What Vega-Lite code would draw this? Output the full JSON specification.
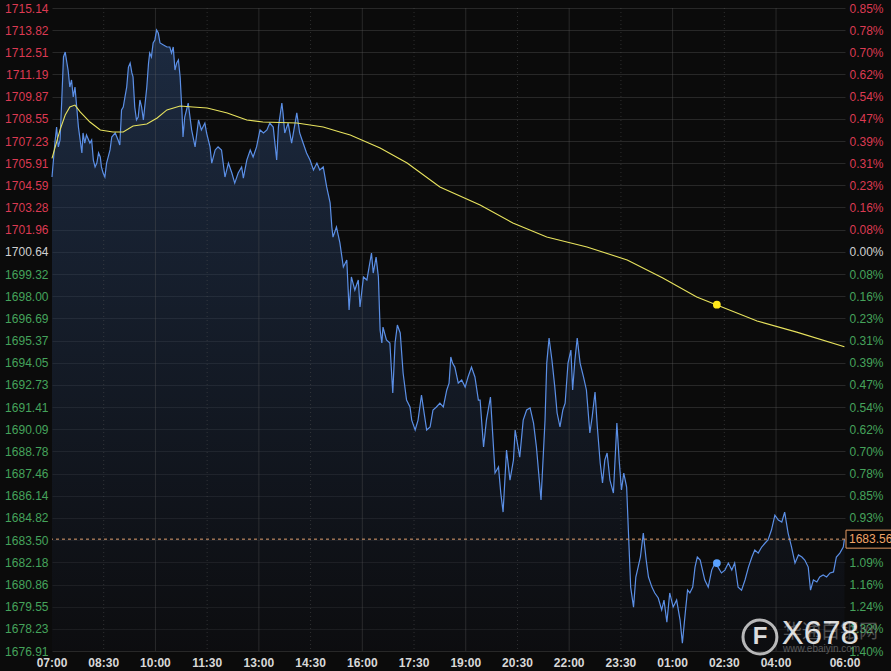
{
  "$schema": "https://vega.github.io/schema/vega-lite/v6.json",
  "width": 793,
  "height": 643,
  "autosize": "none",
  "padding": {"left": 52, "top": 8, "right": 46, "bottom": 20},
  "background": "#0b0b0b",
  "config": {"view": {"stroke": null}, "font": "Liberation Sans"},
  "datasets": {
    "price": [
      {"time": "2020-08-13T07:00", "price": 1705.09},
      {"time": "2020-08-13T07:05", "price": 1707.11},
      {"time": "2020-08-13T07:08", "price": 1708.06},
      {"time": "2020-08-13T07:11", "price": 1706.88},
      {"time": "2020-08-13T07:14", "price": 1707.29},
      {"time": "2020-08-13T07:17", "price": 1709.67},
      {"time": "2020-08-13T07:20", "price": 1712.23},
      {"time": "2020-08-13T07:23", "price": 1712.52},
      {"time": "2020-08-13T07:26", "price": 1711.87},
      {"time": "2020-08-13T07:28", "price": 1711.45},
      {"time": "2020-08-13T07:31", "price": 1710.44},
      {"time": "2020-08-13T07:34", "price": 1710.86},
      {"time": "2020-08-13T07:37", "price": 1709.85},
      {"time": "2020-08-13T07:40", "price": 1710.44},
      {"time": "2020-08-13T07:43", "price": 1709.25},
      {"time": "2020-08-13T07:46", "price": 1708.06},
      {"time": "2020-08-13T07:49", "price": 1707.29},
      {"time": "2020-08-13T07:52", "price": 1706.52},
      {"time": "2020-08-13T07:54", "price": 1707.71},
      {"time": "2020-08-13T07:57", "price": 1707.11},
      {"time": "2020-08-13T08:00", "price": 1707.59},
      {"time": "2020-08-13T08:06", "price": 1707.11},
      {"time": "2020-08-13T08:09", "price": 1707.29},
      {"time": "2020-08-13T08:12", "price": 1706.10},
      {"time": "2020-08-13T08:15", "price": 1705.69},
      {"time": "2020-08-13T08:18", "price": 1705.92},
      {"time": "2020-08-13T08:21", "price": 1706.52},
      {"time": "2020-08-13T08:24", "price": 1706.28},
      {"time": "2020-08-13T08:26", "price": 1705.69},
      {"time": "2020-08-13T08:29", "price": 1705.33},
      {"time": "2020-08-13T08:32", "price": 1705.09},
      {"time": "2020-08-13T08:35", "price": 1705.92},
      {"time": "2020-08-13T08:41", "price": 1706.70},
      {"time": "2020-08-13T08:44", "price": 1707.47},
      {"time": "2020-08-13T08:50", "price": 1707.71},
      {"time": "2020-08-13T08:55", "price": 1707.29},
      {"time": "2020-08-13T08:58", "price": 1706.99},
      {"time": "2020-08-13T09:01", "price": 1709.08},
      {"time": "2020-08-13T09:04", "price": 1709.25},
      {"time": "2020-08-13T09:07", "price": 1709.85},
      {"time": "2020-08-13T09:10", "price": 1710.44},
      {"time": "2020-08-13T09:13", "price": 1711.63},
      {"time": "2020-08-13T09:16", "price": 1711.87},
      {"time": "2020-08-13T09:19", "price": 1711.28},
      {"time": "2020-08-13T09:21", "price": 1711.04},
      {"time": "2020-08-13T09:24", "price": 1709.25},
      {"time": "2020-08-13T09:27", "price": 1708.48},
      {"time": "2020-08-13T09:30", "price": 1708.66},
      {"time": "2020-08-13T09:33", "price": 1709.67},
      {"time": "2020-08-13T09:36", "price": 1709.25},
      {"time": "2020-08-13T09:39", "price": 1708.48},
      {"time": "2020-08-13T09:45", "price": 1710.44},
      {"time": "2020-08-13T09:48", "price": 1711.87},
      {"time": "2020-08-13T09:50", "price": 1712.46},
      {"time": "2020-08-13T09:53", "price": 1712.23},
      {"time": "2020-08-13T09:56", "price": 1713.06},
      {"time": "2020-08-13T09:59", "price": 1713.24},
      {"time": "2020-08-13T10:02", "price": 1713.83},
      {"time": "2020-08-13T10:05", "price": 1713.65},
      {"time": "2020-08-13T10:08", "price": 1713.06},
      {"time": "2020-08-13T10:14", "price": 1712.94},
      {"time": "2020-08-13T10:20", "price": 1712.82},
      {"time": "2020-08-13T10:25", "price": 1712.82},
      {"time": "2020-08-13T10:28", "price": 1712.46},
      {"time": "2020-08-13T10:31", "price": 1712.82},
      {"time": "2020-08-13T10:34", "price": 1711.45},
      {"time": "2020-08-13T10:37", "price": 1711.87},
      {"time": "2020-08-13T10:40", "price": 1712.05},
      {"time": "2020-08-13T10:43", "price": 1711.04},
      {"time": "2020-08-13T10:46", "price": 1709.08},
      {"time": "2020-08-13T10:48", "price": 1707.47},
      {"time": "2020-08-13T10:51", "price": 1708.66},
      {"time": "2020-08-13T10:57", "price": 1709.49},
      {"time": "2020-08-13T11:03", "price": 1707.89},
      {"time": "2020-08-13T11:09", "price": 1706.88},
      {"time": "2020-08-13T11:15", "price": 1708.48},
      {"time": "2020-08-13T11:20", "price": 1707.89},
      {"time": "2020-08-13T11:26", "price": 1708.30},
      {"time": "2020-08-13T11:29", "price": 1707.71},
      {"time": "2020-08-13T11:35", "price": 1706.88},
      {"time": "2020-08-13T11:38", "price": 1705.92},
      {"time": "2020-08-13T11:44", "price": 1706.70},
      {"time": "2020-08-13T11:49", "price": 1706.88},
      {"time": "2020-08-13T11:55", "price": 1706.70},
      {"time": "2020-08-13T12:01", "price": 1705.09},
      {"time": "2020-08-13T12:07", "price": 1705.92},
      {"time": "2020-08-13T12:13", "price": 1705.33},
      {"time": "2020-08-13T12:18", "price": 1704.73},
      {"time": "2020-08-13T12:24", "price": 1705.33},
      {"time": "2020-08-13T12:30", "price": 1705.69},
      {"time": "2020-08-13T12:33", "price": 1705.03},
      {"time": "2020-08-13T12:39", "price": 1706.10},
      {"time": "2020-08-13T12:45", "price": 1706.70},
      {"time": "2020-08-13T12:50", "price": 1706.28},
      {"time": "2020-08-13T12:56", "price": 1706.88},
      {"time": "2020-08-13T13:02", "price": 1707.89},
      {"time": "2020-08-13T13:08", "price": 1707.71},
      {"time": "2020-08-13T13:14", "price": 1707.89},
      {"time": "2020-08-13T13:19", "price": 1708.30},
      {"time": "2020-08-13T13:25", "price": 1708.06},
      {"time": "2020-08-13T13:31", "price": 1706.10},
      {"time": "2020-08-13T13:34", "price": 1708.06},
      {"time": "2020-08-13T13:40", "price": 1709.49},
      {"time": "2020-08-13T13:42", "price": 1708.90},
      {"time": "2020-08-13T13:45", "price": 1707.71},
      {"time": "2020-08-13T13:51", "price": 1708.30},
      {"time": "2020-08-13T13:57", "price": 1707.11},
      {"time": "2020-08-13T14:03", "price": 1708.30},
      {"time": "2020-08-13T14:06", "price": 1708.90},
      {"time": "2020-08-13T14:11", "price": 1707.71},
      {"time": "2020-08-13T14:17", "price": 1707.11},
      {"time": "2020-08-13T14:23", "price": 1706.52},
      {"time": "2020-08-13T14:29", "price": 1706.10},
      {"time": "2020-08-13T14:35", "price": 1705.51},
      {"time": "2020-08-13T14:41", "price": 1705.92},
      {"time": "2020-08-13T14:46", "price": 1705.51},
      {"time": "2020-08-13T14:52", "price": 1705.69},
      {"time": "2020-08-13T14:58", "price": 1704.50},
      {"time": "2020-08-13T15:04", "price": 1703.55},
      {"time": "2020-08-13T15:07", "price": 1702.12},
      {"time": "2020-08-13T15:09", "price": 1701.52},
      {"time": "2020-08-13T15:15", "price": 1702.12},
      {"time": "2020-08-13T15:21", "price": 1701.17},
      {"time": "2020-08-13T15:27", "price": 1699.74},
      {"time": "2020-08-13T15:33", "price": 1700.16},
      {"time": "2020-08-13T15:37", "price": 1697.18},
      {"time": "2020-08-13T15:41", "price": 1699.15},
      {"time": "2020-08-13T15:47", "price": 1698.37},
      {"time": "2020-08-13T15:53", "price": 1698.97},
      {"time": "2020-08-13T15:56", "price": 1697.36},
      {"time": "2020-08-13T16:02", "price": 1699.15},
      {"time": "2020-08-13T16:08", "price": 1698.97},
      {"time": "2020-08-13T16:13", "price": 1699.98},
      {"time": "2020-08-13T16:16", "price": 1700.57},
      {"time": "2020-08-13T16:19", "price": 1699.38},
      {"time": "2020-08-13T16:24", "price": 1700.33},
      {"time": "2020-08-13T16:28", "price": 1699.15},
      {"time": "2020-08-13T16:31", "price": 1695.99},
      {"time": "2020-08-13T16:34", "price": 1695.22},
      {"time": "2020-08-13T16:36", "price": 1696.17},
      {"time": "2020-08-13T16:42", "price": 1695.40},
      {"time": "2020-08-13T16:48", "price": 1695.22},
      {"time": "2020-08-13T16:53", "price": 1692.25},
      {"time": "2020-08-13T16:57", "price": 1695.22},
      {"time": "2020-08-13T17:01", "price": 1696.29},
      {"time": "2020-08-13T17:06", "price": 1695.82},
      {"time": "2020-08-13T17:11", "price": 1693.44},
      {"time": "2020-08-13T17:17", "price": 1691.83},
      {"time": "2020-08-13T17:23", "price": 1691.42},
      {"time": "2020-08-13T17:26", "price": 1690.64},
      {"time": "2020-08-13T17:32", "price": 1690.05},
      {"time": "2020-08-13T17:37", "price": 1690.64},
      {"time": "2020-08-13T17:43", "price": 1692.13},
      {"time": "2020-08-13T17:46", "price": 1691.42},
      {"time": "2020-08-13T17:52", "price": 1690.05},
      {"time": "2020-08-13T17:58", "price": 1690.23},
      {"time": "2020-08-13T18:03", "price": 1691.24},
      {"time": "2020-08-13T18:09", "price": 1691.42},
      {"time": "2020-08-13T18:15", "price": 1691.65},
      {"time": "2020-08-13T18:21", "price": 1691.42},
      {"time": "2020-08-13T18:27", "price": 1692.43},
      {"time": "2020-08-13T18:31", "price": 1692.84},
      {"time": "2020-08-13T18:34", "price": 1694.39},
      {"time": "2020-08-13T18:37", "price": 1694.03},
      {"time": "2020-08-13T18:41", "price": 1693.79},
      {"time": "2020-08-13T18:47", "price": 1692.84},
      {"time": "2020-08-13T18:53", "price": 1693.02},
      {"time": "2020-08-13T18:59", "price": 1692.60},
      {"time": "2020-08-13T19:04", "price": 1693.20},
      {"time": "2020-08-13T19:10", "price": 1693.79},
      {"time": "2020-08-13T19:16", "price": 1693.20},
      {"time": "2020-08-13T19:22", "price": 1691.83},
      {"time": "2020-08-13T19:25", "price": 1691.83},
      {"time": "2020-08-13T19:31", "price": 1689.04},
      {"time": "2020-08-13T19:36", "price": 1690.64},
      {"time": "2020-08-13T19:43", "price": 1692.01},
      {"time": "2020-08-13T19:51", "price": 1687.49},
      {"time": "2020-08-13T19:57", "price": 1687.85},
      {"time": "2020-08-13T20:01", "price": 1686.30},
      {"time": "2020-08-13T20:05", "price": 1685.17},
      {"time": "2020-08-13T20:11", "price": 1688.86},
      {"time": "2020-08-13T20:17", "price": 1687.07},
      {"time": "2020-08-13T20:23", "price": 1688.26},
      {"time": "2020-08-13T20:26", "price": 1690.05},
      {"time": "2020-08-13T20:31", "price": 1689.04},
      {"time": "2020-08-13T20:34", "price": 1688.44},
      {"time": "2020-08-13T20:40", "price": 1690.64},
      {"time": "2020-08-13T20:46", "price": 1691.24},
      {"time": "2020-08-13T20:52", "price": 1691.36},
      {"time": "2020-08-13T20:58", "price": 1690.46},
      {"time": "2020-08-13T21:03", "price": 1689.04},
      {"time": "2020-08-13T21:11", "price": 1685.89},
      {"time": "2020-08-13T21:18", "price": 1690.64},
      {"time": "2020-08-13T21:21", "price": 1694.03},
      {"time": "2020-08-13T21:25", "price": 1695.52},
      {"time": "2020-08-13T21:30", "price": 1694.21},
      {"time": "2020-08-13T21:35", "price": 1692.60},
      {"time": "2020-08-13T21:39", "price": 1691.06},
      {"time": "2020-08-13T21:44", "price": 1690.23},
      {"time": "2020-08-13T21:49", "price": 1691.24},
      {"time": "2020-08-13T21:53", "price": 1691.65},
      {"time": "2020-08-13T21:58", "price": 1694.03},
      {"time": "2020-08-13T22:03", "price": 1694.80},
      {"time": "2020-08-13T22:06", "price": 1692.43},
      {"time": "2020-08-13T22:10", "price": 1694.21},
      {"time": "2020-08-13T22:14", "price": 1695.52},
      {"time": "2020-08-13T22:19", "price": 1694.03},
      {"time": "2020-08-13T22:25", "price": 1693.20},
      {"time": "2020-08-13T22:30", "price": 1692.43},
      {"time": "2020-08-13T22:36", "price": 1689.87},
      {"time": "2020-08-13T22:40", "price": 1690.82},
      {"time": "2020-08-13T22:45", "price": 1692.31},
      {"time": "2020-08-13T22:49", "price": 1690.23},
      {"time": "2020-08-13T22:54", "price": 1688.09},
      {"time": "2020-08-13T22:58", "price": 1686.90},
      {"time": "2020-08-13T23:02", "price": 1688.26},
      {"time": "2020-08-13T23:06", "price": 1688.68},
      {"time": "2020-08-13T23:11", "price": 1687.07},
      {"time": "2020-08-13T23:17", "price": 1686.30},
      {"time": "2020-08-13T23:23", "price": 1690.46},
      {"time": "2020-08-13T23:27", "price": 1688.26},
      {"time": "2020-08-13T23:31", "price": 1686.48},
      {"time": "2020-08-13T23:35", "price": 1687.49},
      {"time": "2020-08-13T23:40", "price": 1686.66},
      {"time": "2020-08-13T23:43", "price": 1684.10},
      {"time": "2020-08-13T23:47", "price": 1680.71},
      {"time": "2020-08-13T23:52", "price": 1679.52},
      {"time": "2020-08-13T23:56", "price": 1681.31},
      {"time": "2020-08-14T00:00", "price": 1681.90},
      {"time": "2020-08-14T00:04", "price": 1682.50},
      {"time": "2020-08-14T00:09", "price": 1683.92},
      {"time": "2020-08-14T00:14", "price": 1682.32},
      {"time": "2020-08-14T00:18", "price": 1681.31},
      {"time": "2020-08-14T00:24", "price": 1680.71},
      {"time": "2020-08-14T00:29", "price": 1680.36},
      {"time": "2020-08-14T00:35", "price": 1680.06},
      {"time": "2020-08-14T00:41", "price": 1679.35},
      {"time": "2020-08-14T00:45", "price": 1679.94},
      {"time": "2020-08-14T00:50", "price": 1678.63},
      {"time": "2020-08-14T00:55", "price": 1680.36},
      {"time": "2020-08-14T01:01", "price": 1679.52},
      {"time": "2020-08-14T01:07", "price": 1679.94},
      {"time": "2020-08-14T01:13", "price": 1678.75},
      {"time": "2020-08-14T01:17", "price": 1677.38},
      {"time": "2020-08-14T01:22", "price": 1679.17},
      {"time": "2020-08-14T01:26", "price": 1680.53},
      {"time": "2020-08-14T01:30", "price": 1680.36},
      {"time": "2020-08-14T01:35", "price": 1680.71},
      {"time": "2020-08-14T01:39", "price": 1681.90},
      {"time": "2020-08-14T01:43", "price": 1682.50},
      {"time": "2020-08-14T01:48", "price": 1682.32},
      {"time": "2020-08-14T01:52", "price": 1681.72},
      {"time": "2020-08-14T01:56", "price": 1681.13},
      {"time": "2020-08-14T02:02", "price": 1680.71},
      {"time": "2020-08-14T02:08", "price": 1681.72},
      {"time": "2020-08-14T02:14", "price": 1682.14},
      {"time": "2020-08-14T02:19", "price": 1681.90},
      {"time": "2020-08-14T02:25", "price": 1681.55},
      {"time": "2020-08-14T02:31", "price": 1681.72},
      {"time": "2020-08-14T02:37", "price": 1682.14},
      {"time": "2020-08-14T02:43", "price": 1681.72},
      {"time": "2020-08-14T02:48", "price": 1682.14},
      {"time": "2020-08-14T02:54", "price": 1680.71},
      {"time": "2020-08-14T03:00", "price": 1680.53},
      {"time": "2020-08-14T03:06", "price": 1681.13},
      {"time": "2020-08-14T03:12", "price": 1681.90},
      {"time": "2020-08-14T03:18", "price": 1682.50},
      {"time": "2020-08-14T03:23", "price": 1682.91},
      {"time": "2020-08-14T03:29", "price": 1682.73},
      {"time": "2020-08-14T03:35", "price": 1683.09},
      {"time": "2020-08-14T03:41", "price": 1683.33},
      {"time": "2020-08-14T03:46", "price": 1683.51},
      {"time": "2020-08-14T03:52", "price": 1684.10},
      {"time": "2020-08-14T03:58", "price": 1684.99},
      {"time": "2020-08-14T04:04", "price": 1684.70},
      {"time": "2020-08-14T04:10", "price": 1684.58},
      {"time": "2020-08-14T04:15", "price": 1685.17},
      {"time": "2020-08-14T04:21", "price": 1683.92},
      {"time": "2020-08-14T04:27", "price": 1683.09},
      {"time": "2020-08-14T04:33", "price": 1682.14},
      {"time": "2020-08-14T04:39", "price": 1682.62},
      {"time": "2020-08-14T04:45", "price": 1682.50},
      {"time": "2020-08-14T04:50", "price": 1682.32},
      {"time": "2020-08-14T04:56", "price": 1681.90},
      {"time": "2020-08-14T05:00", "price": 1680.53},
      {"time": "2020-08-14T05:05", "price": 1681.13},
      {"time": "2020-08-14T05:11", "price": 1681.01},
      {"time": "2020-08-14T05:16", "price": 1681.31},
      {"time": "2020-08-14T05:22", "price": 1681.43},
      {"time": "2020-08-14T05:28", "price": 1681.31},
      {"time": "2020-08-14T05:34", "price": 1681.55},
      {"time": "2020-08-14T05:40", "price": 1681.61},
      {"time": "2020-08-14T05:45", "price": 1682.50},
      {"time": "2020-08-14T05:51", "price": 1682.73},
      {"time": "2020-08-14T05:57", "price": 1683.09},
      {"time": "2020-08-14T05:59", "price": 1683.56}
    ],
    "ma": [
      {"time": "2020-08-13T07:00", "ma": 1706.20},
      {"time": "2020-08-13T07:14", "ma": 1707.89},
      {"time": "2020-08-13T07:23", "ma": 1708.78},
      {"time": "2020-08-13T07:31", "ma": 1709.25},
      {"time": "2020-08-13T07:40", "ma": 1709.37},
      {"time": "2020-08-13T07:49", "ma": 1708.96},
      {"time": "2020-08-13T08:06", "ma": 1708.36},
      {"time": "2020-08-13T08:24", "ma": 1707.89},
      {"time": "2020-08-13T08:46", "ma": 1707.77},
      {"time": "2020-08-13T09:04", "ma": 1707.77},
      {"time": "2020-08-13T09:21", "ma": 1708.12},
      {"time": "2020-08-13T09:45", "ma": 1708.24},
      {"time": "2020-08-13T10:03", "ma": 1708.60},
      {"time": "2020-08-13T10:20", "ma": 1709.08},
      {"time": "2020-08-13T10:43", "ma": 1709.31},
      {"time": "2020-08-13T11:05", "ma": 1709.25},
      {"time": "2020-08-13T11:30", "ma": 1709.19},
      {"time": "2020-08-13T12:05", "ma": 1708.90},
      {"time": "2020-08-13T12:39", "ma": 1708.48},
      {"time": "2020-08-13T13:07", "ma": 1708.36},
      {"time": "2020-08-13T14:06", "ma": 1708.30},
      {"time": "2020-08-13T14:52", "ma": 1708.06},
      {"time": "2020-08-13T15:21", "ma": 1707.77},
      {"time": "2020-08-13T15:39", "ma": 1707.59},
      {"time": "2020-08-13T16:31", "ma": 1706.82},
      {"time": "2020-08-13T17:18", "ma": 1705.92},
      {"time": "2020-08-13T18:15", "ma": 1704.50},
      {"time": "2020-08-13T19:25", "ma": 1703.43},
      {"time": "2020-08-13T20:22", "ma": 1702.36},
      {"time": "2020-08-13T21:21", "ma": 1701.52},
      {"time": "2020-08-13T22:31", "ma": 1700.93},
      {"time": "2020-08-13T23:41", "ma": 1700.16},
      {"time": "2020-08-14T00:43", "ma": 1699.09},
      {"time": "2020-08-14T01:42", "ma": 1697.96},
      {"time": "2020-08-14T02:17", "ma": 1697.48},
      {"time": "2020-08-14T03:27", "ma": 1696.53},
      {"time": "2020-08-14T04:36", "ma": 1695.87},
      {"time": "2020-08-14T05:59", "ma": 1695.00}
    ],
    "vgrid": [
      {"time": "2020-08-13T08:30", "kind": "minor"},
      {"time": "2020-08-13T10:00", "kind": "major"},
      {"time": "2020-08-13T11:30", "kind": "minor"},
      {"time": "2020-08-13T13:00", "kind": "major"},
      {"time": "2020-08-13T14:30", "kind": "minor"},
      {"time": "2020-08-13T16:00", "kind": "major"},
      {"time": "2020-08-13T17:30", "kind": "minor"},
      {"time": "2020-08-13T19:00", "kind": "major"},
      {"time": "2020-08-13T20:30", "kind": "minor"},
      {"time": "2020-08-13T22:00", "kind": "major"},
      {"time": "2020-08-13T23:30", "kind": "minor"},
      {"time": "2020-08-14T01:00", "kind": "major"},
      {"time": "2020-08-14T02:30", "kind": "minor"},
      {"time": "2020-08-14T04:00", "kind": "major"}
    ],
    "xticks": [
      {"time": "2020-08-13T07:00"},
      {"time": "2020-08-13T08:30"},
      {"time": "2020-08-13T10:00"},
      {"time": "2020-08-13T11:30"},
      {"time": "2020-08-13T13:00"},
      {"time": "2020-08-13T14:30"},
      {"time": "2020-08-13T16:00"},
      {"time": "2020-08-13T17:30"},
      {"time": "2020-08-13T19:00"},
      {"time": "2020-08-13T20:30"},
      {"time": "2020-08-13T22:00"},
      {"time": "2020-08-13T23:30"},
      {"time": "2020-08-14T01:00"},
      {"time": "2020-08-14T02:30"},
      {"time": "2020-08-14T04:00"},
      {"time": "2020-08-14T06:00"}
    ],
    "notes": [
      {"time": "2020-08-14T02:17", "value": 1697.5, "kind": "ma"},
      {"time": "2020-08-14T02:17", "value": 1682.14, "kind": "price"}
    ],
    "last": [
      {"time": "2020-08-14T06:00", "value": 1683.56, "label": "1683.56"}
    ],
    "wm": [
      {"time": "2020-08-14T03:32", "value": 1677.74, "kind": "ring", "text": "F"},
      {"time": "2020-08-14T04:12", "value": 1678.04, "kind": "cn", "text": "华通白银网"},
      {"time": "2020-08-14T04:12", "value": 1677.05, "kind": "url", "text": "www.ebaiyin.com"},
      {"time": "2020-08-14T04:10", "value": 1677.95, "kind": "brand", "text": "X678"}
    ]
  },
  "layer": [
    {
      "data": {"name": "price"},
      "mark": {
        "type": "area",
        "color": {
          "gradient": "linear", "x1": 0, "y1": 0, "x2": 0, "y2": 1,
          "stops": [
            {"offset": 0, "color": "rgba(45,73,117,0.5)"},
            {"offset": 1, "color": "rgba(14,15,20,0.5)"}
          ]
        }
      },
      "encoding": {
        "x": {
          "field": "time", "type": "temporal",
          "scale": {"domain": [
            {"year": 2020, "month": 8, "date": 13, "hours": 7, "minutes": 0},
            {"year": 2020, "month": 8, "date": 14, "hours": 6, "minutes": 0}
          ]},
          "axis": null
        },
        "y": {
          "field": "price", "type": "quantitative",
          "scale": {"domain": [1676.91, 1715.14], "nice": false, "zero": false},
          "axis": {
            "title": null,
            "orient": "left",
            "values": [1715.14, 1713.82, 1712.51, 1711.19, 1709.87, 1708.55, 1707.23, 1705.91, 1704.59, 1703.28, 1701.96, 1700.64, 1699.32, 1698.00, 1696.69, 1695.37, 1694.05, 1692.73, 1691.41, 1690.09, 1688.78, 1687.46, 1686.14, 1684.82, 1683.50, 1682.18, 1680.86, 1679.55, 1678.23, 1676.91],
            "format": ".2f",
            "labelOverlap": false,
            "domain": false,
            "ticks": false,
            "labelPadding": 4,
            "labelFontSize": 12,
            "labelColor": {"condition": [
              {"test": "datum.value > 1700.7", "value": "#dc3a52"},
              {"test": "datum.value < 1700.6", "value": "#45a35b"}
            ], "value": "#d0d0d0"},
            "grid": true,
            "gridColor": "#5a5a5a",
            "gridOpacity": 0.38
          }
        },
        "y2": {"datum": 1676.91}
      }
    },
    {
      "data": {"name": "vgrid"},
      "transform": [{"filter": "datum.kind == 'major'"}],
      "mark": {"type": "rule", "color": "#5a5a5a", "opacity": 0.38, "strokeWidth": 1},
      "encoding": {
        "x": {"field": "time", "type": "temporal", "axis": null}
      }
    },
    {
      "data": {"name": "vgrid"},
      "transform": [{"filter": "datum.kind == 'minor'"}],
      "mark": {"type": "rule", "color": "#5a5a5a", "opacity": 0.45, "strokeWidth": 1, "strokeDash": [1, 3]},
      "encoding": {
        "x": {"field": "time", "type": "temporal", "axis": null}
      }
    },
    {
      "data": {"name": "price"},
      "mark": {"type": "line", "color": "#5b8fe6", "strokeWidth": 1.2},
      "encoding": {
        "x": {"field": "time", "type": "temporal", "axis": null},
        "y": {"field": "price", "type": "quantitative", "axis": null}
      }
    },
    {
      "data": {"name": "ma"},
      "mark": {"type": "line", "color": "#e8e35e", "strokeWidth": 1.1},
      "encoding": {
        "x": {"field": "time", "type": "temporal", "axis": null},
        "y": {
          "field": "ma", "type": "quantitative",
          "axis": {
            "title": null,
            "orient": "right",
            "values": [1715.14, 1713.82, 1712.51, 1711.19, 1709.87, 1708.55, 1707.23, 1705.91, 1704.59, 1703.28, 1701.96, 1700.64, 1699.32, 1698.00, 1696.69, 1695.37, 1694.05, 1692.73, 1691.41, 1690.09, 1688.78, 1687.46, 1686.14, 1684.82, 1683.50, 1682.18, 1680.86, 1679.55, 1678.23, 1676.91],
            "labelExpr": "format(abs(round((datum.value - 1700.64) / 1.3183)) * 0.0775164, '.2f') + '%'",
            "labelOverlap": false,
            "domain": false,
            "ticks": false,
            "grid": false,
            "labelPadding": 4,
            "labelFontSize": 12,
            "labelColor": {"condition": [
              {"test": "datum.value > 1700.7", "value": "#dc3a52"},
              {"test": "datum.value < 1700.6", "value": "#45a35b"}
            ], "value": "#d0d0d0"}
          }
        }
      }
    },
    {
      "data": {"name": "xticks"},
      "mark": {"type": "text", "align": "center", "baseline": "middle", "dy": 12, "fontSize": 12, "fontWeight": "bold", "color": "#d8d8d8"},
      "encoding": {
        "x": {"field": "time", "type": "temporal", "axis": null},
        "y": {"datum": 1676.91, "type": "quantitative", "axis": null},
        "text": {"field": "time", "type": "temporal", "format": "%H:%M"}
      }
    },
    {
      "data": {"name": "last"},
      "mark": {"type": "rule", "color": "#e0a070", "strokeDash": [3, 3], "strokeWidth": 1},
      "encoding": {"y": {"field": "value", "type": "quantitative", "axis": null}}
    },
    {
      "data": {"name": "last"},
      "mark": {"type": "rect", "fill": "#050505", "stroke": "#e39a62", "strokeWidth": 1, "xOffset": 1, "x2Offset": 60, "yOffset": -9, "y2Offset": 9},
      "encoding": {
        "x": {"field": "time", "type": "temporal", "axis": null},
        "x2": {"field": "time"},
        "y": {"field": "value", "type": "quantitative", "axis": null},
        "y2": {"field": "value"}
      }
    },
    {
      "data": {"name": "last"},
      "mark": {"type": "text", "align": "left", "baseline": "middle", "dx": 4, "fontSize": 12, "color": "#f0a468"},
      "encoding": {
        "x": {"field": "time", "type": "temporal", "axis": null},
        "y": {"field": "value", "type": "quantitative", "axis": null},
        "text": {"field": "label"}
      }
    },
    {
      "data": {"name": "notes"},
      "mark": {"type": "point", "filled": true, "shape": "circle", "size": 60, "opacity": 1},
      "encoding": {
        "x": {"field": "time", "type": "temporal", "axis": null},
        "y": {"field": "value", "type": "quantitative", "axis": null},
        "color": {"field": "kind", "type": "nominal", "scale": {"domain": ["ma", "price"], "range": ["#ffe81a", "#5aa2ff"]}, "legend": null}
      }
    },
    {
      "data": {"name": "wm"},
      "transform": [{"filter": "datum.kind == 'cn'"}],
      "mark": {"type": "text", "align": "left", "baseline": "middle", "fontSize": 19, "font": "Noto Sans CJK SC", "color": "#a0a0a0", "opacity": 0.45},
      "encoding": {
        "x": {"field": "time", "type": "temporal", "axis": null},
        "y": {"field": "value", "type": "quantitative", "axis": null},
        "text": {"field": "text"}
      }
    },
    {
      "data": {"name": "wm"},
      "transform": [{"filter": "datum.kind == 'url'"}],
      "mark": {"type": "text", "align": "left", "baseline": "middle", "fontSize": 10, "color": "#a0a0a0", "opacity": 0.5},
      "encoding": {
        "x": {"field": "time", "type": "temporal", "axis": null},
        "y": {"field": "value", "type": "quantitative", "axis": null},
        "text": {"field": "text"}
      }
    },
    {
      "data": {"name": "wm"},
      "transform": [{"filter": "datum.kind == 'ring'"}],
      "mark": {"type": "point", "filled": false, "shape": "circle", "size": 1150, "color": "#ffffff", "strokeWidth": 3, "opacity": 0.7},
      "encoding": {
        "x": {"field": "time", "type": "temporal", "axis": null},
        "y": {"field": "value", "type": "quantitative", "axis": null}
      }
    },
    {
      "data": {"name": "wm"},
      "transform": [{"filter": "datum.kind == 'ring'"}],
      "mark": {"type": "text", "align": "center", "baseline": "middle", "fontSize": 24, "fontWeight": "bold", "color": "#ffffff", "opacity": 0.85},
      "encoding": {
        "x": {"field": "time", "type": "temporal", "axis": null},
        "y": {"field": "value", "type": "quantitative", "axis": null},
        "text": {"field": "text"}
      }
    },
    {
      "data": {"name": "wm"},
      "transform": [{"filter": "datum.kind == 'brand'"}],
      "mark": {"type": "text", "align": "left", "baseline": "middle", "fontSize": 33, "color": "#ffffff", "opacity": 0.85},
      "encoding": {
        "x": {"field": "time", "type": "temporal", "axis": null},
        "y": {"field": "value", "type": "quantitative", "axis": null},
        "text": {"field": "text"}
      }
    }
  ],
  "resolve": {"axis": {"y": "independent"}}
}
